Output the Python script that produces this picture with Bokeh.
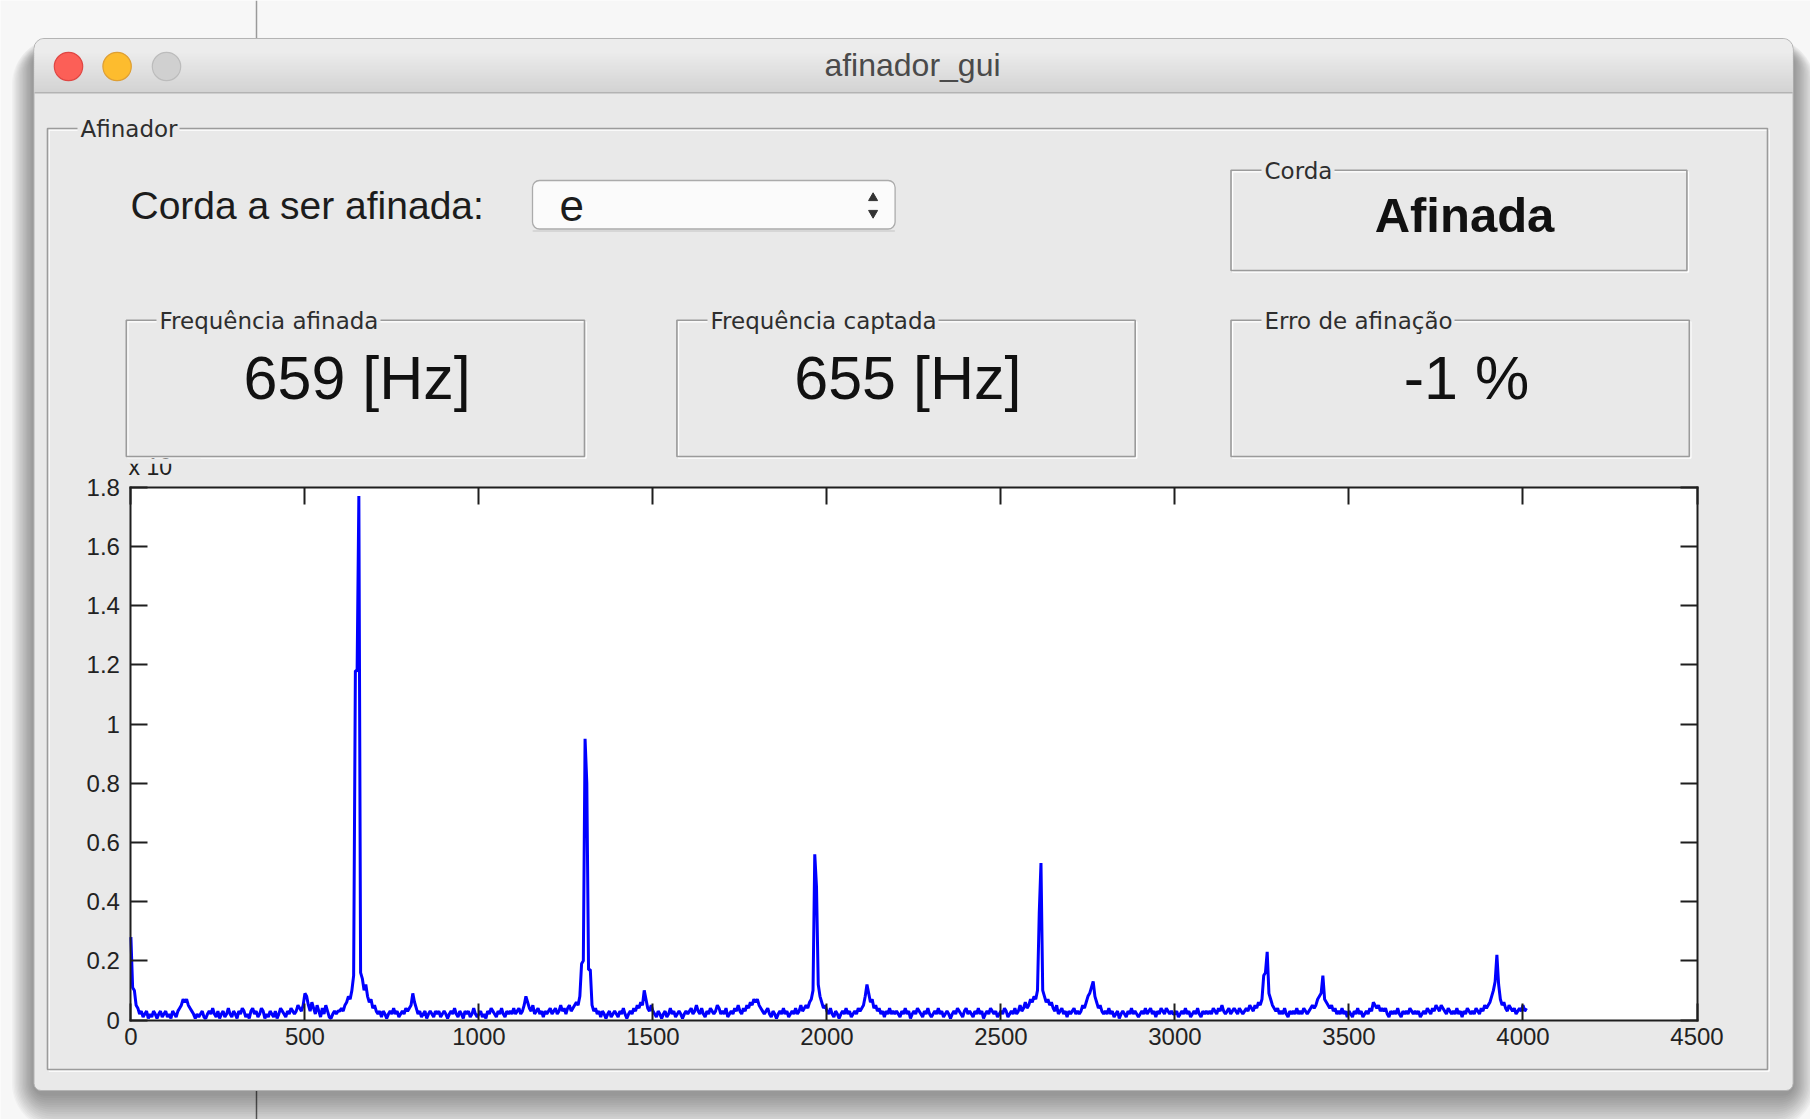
from bokeh.plotting import figure
from bokeh.models import Range1d, LinearAxis, FixedTicker
from bokeh.core.properties import value
from bokeh.embed import file_html
from bokeh.resources import INLINE

# ---------------- data ----------------
x_ticks = [0, 500, 1000, 1500, 2000, 2500, 3000, 3500, 4000, 4500]
x_tick_labels = ["0", "500", "1000", "1500", "2000", "2500", "3000", "3500", "4000", "4500"]
y_ticks = [0, 0.2, 0.4, 0.6, 0.8, 1.0, 1.2, 1.4, 1.6, 1.8]
y_tick_labels = ["0", "0.2", "0.4", "0.6", "0.8", "1", "1.2", "1.4", "1.6", "1.8"]

# spectrum magnitude, one value per 5 Hz bin (0, 5, 10, ... Hz)
amp = [
    0.28, 0.11, 0.10, 0.05, 0.04, 0.02, 0.03, 0.01, 0.02, 0.03, 0.005, 0.02, 0.01, 0.03, 0.02, 0.005, 0.02, 0.03, 0.01, 0.02,   # 0
    0.03, 0.01, 0.02, 0.005, 0.03, 0.02, 0.01, 0.03, 0.04, 0.05, 0.07, 0.06, 0.07, 0.05, 0.04, 0.03, 0.02, 0.005, 0.02, 0.01,  # 100
    0.02, 0.03, 0.01, 0.005, 0.02, 0.03, 0.02, 0.04, 0.02, 0.01, 0.03, 0.005, 0.02, 0.03, 0.01, 0.02, 0.04, 0.02, 0.01, 0.03,  # 200
    0.02, 0.005, 0.03, 0.02, 0.04, 0.03, 0.01, 0.02, 0.005, 0.03, 0.04, 0.02, 0.03, 0.01, 0.02, 0.04, 0.03, 0.005, 0.02, 0.01,  # 300
    0.03, 0.02, 0.01, 0.03, 0.005, 0.02, 0.04, 0.03, 0.02, 0.01, 0.03, 0.02, 0.04, 0.03, 0.02, 0.03, 0.05, 0.04, 0.03, 0.05,  # 400
    0.09, 0.08, 0.05, 0.03, 0.06, 0.04, 0.02, 0.05, 0.03, 0.01, 0.04, 0.02, 0.05, 0.03, 0.01, 0.005, 0.02, 0.03, 0.02, 0.03,  # 500
    0.03, 0.04, 0.03, 0.05, 0.06, 0.08, 0.07, 0.10, 0.15, 1.18, 1.18, 1.77, 0.16, 0.14, 0.10, 0.12, 0.08, 0.06, 0.07, 0.04,   # 600
    0.05, 0.03, 0.02, 0.03, 0.01, 0.03, 0.02, 0.005, 0.02, 0.03, 0.02, 0.04, 0.02, 0.03, 0.01, 0.02, 0.03, 0.02, 0.04, 0.03,  # 700
    0.04, 0.05, 0.09, 0.06, 0.04, 0.02, 0.03, 0.01, 0.02, 0.03, 0.005, 0.02, 0.03, 0.02, 0.01, 0.03, 0.02, 0.03, 0.01, 0.02,  # 800
    0.03, 0.02, 0.005, 0.02, 0.03, 0.02, 0.04, 0.02, 0.01, 0.03, 0.02, 0.005, 0.03, 0.02, 0.03, 0.01, 0.02, 0.04, 0.02, 0.01,  # 900
    0.02, 0.03, 0.01, 0.02, 0.005, 0.03, 0.02, 0.04, 0.03, 0.02, 0.01, 0.03, 0.02, 0.04, 0.02, 0.01, 0.03, 0.02, 0.03, 0.02,  # 1000
    0.04, 0.02, 0.03, 0.04, 0.02, 0.03, 0.05, 0.08, 0.06, 0.04, 0.03, 0.05, 0.02, 0.03, 0.04, 0.02, 0.03, 0.01, 0.03, 0.02,   # 1100
    0.03, 0.04, 0.02, 0.03, 0.04, 0.02, 0.03, 0.05, 0.03, 0.04, 0.02, 0.04, 0.05, 0.03, 0.04, 0.05, 0.06, 0.05, 0.08, 0.19,   # 1200
    0.20, 0.95, 0.80, 0.17, 0.17, 0.05, 0.03, 0.04, 0.02, 0.03, 0.01, 0.03, 0.02, 0.005, 0.02, 0.03, 0.01, 0.02, 0.03, 0.02,  # 1300
    0.01, 0.03, 0.02, 0.04, 0.02, 0.005, 0.02, 0.03, 0.02, 0.04, 0.03, 0.05, 0.04, 0.06, 0.05, 0.10, 0.07, 0.04, 0.03, 0.05,  # 1400
    0.03, 0.02, 0.01, 0.03, 0.02, 0.005, 0.02, 0.03, 0.01, 0.02, 0.04, 0.02, 0.03, 0.01, 0.02, 0.03, 0.02, 0.005, 0.02, 0.03,  # 1500
    0.02, 0.03, 0.04, 0.02, 0.03, 0.05, 0.03, 0.02, 0.04, 0.02, 0.01, 0.03, 0.02, 0.04, 0.03, 0.02, 0.03, 0.05, 0.04, 0.02,   # 1600
    0.03, 0.02, 0.04, 0.01, 0.02, 0.03, 0.02, 0.04, 0.03, 0.05, 0.03, 0.02, 0.04, 0.03, 0.05, 0.04, 0.06, 0.05, 0.07, 0.06,   # 1700
    0.07, 0.05, 0.04, 0.03, 0.02, 0.03, 0.04, 0.02, 0.01, 0.03, 0.02, 0.005, 0.02, 0.03, 0.02, 0.04, 0.02, 0.03, 0.01, 0.02,  # 1800
    0.03, 0.02, 0.04, 0.02, 0.03, 0.05, 0.03, 0.04, 0.05, 0.04, 0.06, 0.07, 0.10, 0.56, 0.45, 0.12, 0.08, 0.06, 0.04, 0.05,   # 1900
    0.03, 0.02, 0.04, 0.02, 0.01, 0.03, 0.02, 0.005, 0.02, 0.03, 0.02, 0.04, 0.02, 0.03, 0.01, 0.02, 0.03, 0.02, 0.04, 0.03,  # 2000
    0.04, 0.05, 0.08, 0.12, 0.09, 0.06, 0.07, 0.04, 0.05, 0.03, 0.04, 0.02, 0.03, 0.01, 0.03, 0.02, 0.04, 0.02, 0.03, 0.02,   # 2100
    0.03, 0.02, 0.01, 0.03, 0.02, 0.04, 0.02, 0.03, 0.005, 0.02, 0.03, 0.02, 0.04, 0.03, 0.02, 0.01, 0.03, 0.02, 0.04, 0.02,  # 2200
    0.01, 0.02, 0.03, 0.02, 0.04, 0.02, 0.03, 0.01, 0.02, 0.03, 0.02, 0.005, 0.02, 0.03, 0.02, 0.04, 0.03, 0.02, 0.01, 0.03,  # 2300
    0.04, 0.02, 0.03, 0.02, 0.01, 0.03, 0.02, 0.04, 0.02, 0.03, 0.005, 0.02, 0.03, 0.02, 0.04, 0.03, 0.02, 0.03, 0.01, 0.02,  # 2400
    0.03, 0.02, 0.04, 0.03, 0.01, 0.02, 0.03, 0.02, 0.04, 0.02, 0.03, 0.05, 0.03, 0.04, 0.06, 0.04, 0.05, 0.07, 0.06, 0.08,   # 2500
    0.07, 0.10, 0.36, 0.53, 0.10, 0.08, 0.06, 0.07, 0.05, 0.06, 0.04, 0.03, 0.05, 0.02, 0.03, 0.04, 0.02, 0.03, 0.01, 0.03,   # 2600
    0.02, 0.03, 0.04, 0.02, 0.03, 0.02, 0.03, 0.05, 0.04, 0.06, 0.08, 0.09, 0.11, 0.13, 0.08, 0.06, 0.04, 0.05, 0.03, 0.02,   # 2700
    0.03, 0.02, 0.04, 0.02, 0.03, 0.01, 0.02, 0.03, 0.005, 0.02, 0.03, 0.02, 0.01, 0.03, 0.02, 0.04, 0.02, 0.03, 0.02, 0.01,  # 2800
    0.02, 0.03, 0.02, 0.04, 0.02, 0.03, 0.04, 0.02, 0.03, 0.01, 0.03, 0.02, 0.04, 0.03, 0.02, 0.04, 0.03, 0.02, 0.03, 0.02,   # 2900
    0.02, 0.03, 0.01, 0.02, 0.03, 0.02, 0.04, 0.02, 0.03, 0.01, 0.02, 0.03, 0.02, 0.04, 0.02, 0.01, 0.03, 0.02, 0.03, 0.02,   # 3000
    0.03, 0.02, 0.04, 0.03, 0.02, 0.04, 0.03, 0.05, 0.03, 0.02, 0.03, 0.04, 0.02, 0.03, 0.04, 0.03, 0.02, 0.04, 0.03, 0.02,   # 3100
    0.03, 0.04, 0.03, 0.05, 0.04, 0.03, 0.05, 0.04, 0.06, 0.05, 0.07, 0.15, 0.16, 0.23, 0.09, 0.07, 0.05, 0.04, 0.03, 0.04,   # 3200
    0.02, 0.03, 0.02, 0.04, 0.02, 0.01, 0.03, 0.02, 0.03, 0.02, 0.04, 0.02, 0.03, 0.02, 0.04, 0.03, 0.02, 0.03, 0.04, 0.05,   # 3300
    0.04, 0.05, 0.07, 0.08, 0.09, 0.15, 0.07, 0.06, 0.05, 0.04, 0.05, 0.03, 0.04, 0.02, 0.03, 0.02, 0.04, 0.02, 0.03, 0.01,   # 3400
    0.03, 0.02, 0.01, 0.03, 0.02, 0.04, 0.02, 0.03, 0.01, 0.02, 0.03, 0.02, 0.04, 0.03, 0.06, 0.05, 0.04, 0.05, 0.03, 0.04,   # 3500
    0.03, 0.04, 0.02, 0.01, 0.03, 0.02, 0.03, 0.02, 0.04, 0.02, 0.01, 0.03, 0.02, 0.03, 0.02, 0.04, 0.03, 0.02, 0.03, 0.02,   # 3600
    0.03, 0.01, 0.02, 0.03, 0.02, 0.04, 0.03, 0.02, 0.04, 0.03, 0.05, 0.04, 0.03, 0.05, 0.04, 0.03, 0.02, 0.04, 0.03, 0.02,   # 3700
    0.03, 0.02, 0.04, 0.02, 0.03, 0.01, 0.03, 0.02, 0.04, 0.03, 0.02, 0.03, 0.02, 0.04, 0.03, 0.02, 0.04, 0.03, 0.05, 0.04,   # 3800
    0.05, 0.06, 0.08, 0.10, 0.13, 0.22, 0.12, 0.07, 0.05, 0.06, 0.04, 0.03, 0.05, 0.04, 0.03, 0.04, 0.02, 0.03, 0.04, 0.03,   # 3900
    0.05, 0.03, 0.04,                                                                                                        # 4000
]
freq_hz = [5 * i for i in range(len(amp))]  # bin frequencies, 5 Hz apart

window_title = "afinador_gui"
panel_title = "Afinador"
string_prompt = "Corda a ser afinada:"
string_choice = "e"
status_title = "Corda"
status_text = "Afinada"
box_titles = ["Frequência afinada", "Frequência captada", "Erro de afinação"]
box_values = ["659 [Hz]", "655 [Hz]", "-1 %"]
exponent_label = "x 10"

# ---------------- layout (page pixel coordinates) ----------------
PAGE_W, PAGE_H = 1810, 1119
PL, PR, PT, PB = 130.4, 1696.5, 486.7, 1019.5     # plot box
XMAX, YMAX = 4500.0, 1.8

BODY = "#e9e9e9"
DARK = "#9b9b9b"
FONT = "Liberation Sans"
SMALL = "DejaVu Sans"

p = figure(width=PAGE_W, height=PAGE_H,
           x_range=Range1d(0, PAGE_W), y_range=Range1d(PAGE_H, 0),
           x_axis_type=None, y_axis_type=None,
           output_backend="svg", toolbar_location=None, min_border=0)
p.outline_line_color = None
p.background_fill_color = "#f7f7f7"
p.border_fill_color = "#f7f7f7"

kf = (PR - PL) / XMAX
ka = (PB - PT) / YMAX
p.extra_x_ranges = {"f": Range1d((0 - PL) / kf, (PAGE_W - PL) / kf)}
p.extra_y_ranges = {"a": Range1d((PB - PAGE_H) / ka, (PB - 0) / ka)}


def rad(r):
    if isinstance(r, tuple):
        return tuple(int(round(v)) for v in r)
    return int(round(r))


def box(l, r, t, b, fill=None, line=None, lw=1.0, radius=0, alpha=1.0):
    p.quad(left=[l], right=[r], top=[t], bottom=[b], fill_color=fill, fill_alpha=alpha,
           line_color=line, line_width=lw, border_radius=rad(radius))


def label(x, y, s, size, font=FONT, color="#1c1c1c", align="left", style="normal"):
    p.text(x=[x], y=[y], text=[s], text_font=value(font), text_font_size=size,
           text_font_style=style, text_color=color, text_align=align,
           text_baseline="alphabetic")


# desktop line behind window
p.segment(x0=[256, 256], y0=[0, 1085], x1=[256, 256], y1=[45, 1119],
          line_color=["#9a9a9a", "#666666"], line_width=1.5)

# window shadow
WL, WR, WT, WB = 33.5, 1792.6, 38.0, 1090.0
N = 16
for i in range(N):
    e = 2.3 * (N - i)
    box(WL - 0.6 * e, WR + 0.6 * e, WT + 14 - 0.4 * e, WB + 3 + e,
        fill="black", alpha=0.028, radius=10 + e)

# window body
box(WL, WR, WT, WB, fill=BODY, line="#b4b4b4", lw=1, radius=(10, 10, 7, 7))
# title bar gradient
box(WL + 0.5, WR - 0.5, WT + 0.5, WT + 14, fill="#ececec", radius=(10, 10, 0, 0))
steps = 21
y0 = WT + 12
for i in range(steps):
    t = i / (steps - 1)
    c = int(round(0xec + (0xd3 - 0xec) * t))
    col = "#%02x%02x%02x" % (c, c, c)
    yy = y0 + i * (92 - y0) / steps
    box(WL + 0.5, WR - 0.5, yy, yy + (92 - y0) / steps + 0.6, fill=col)
box(WL + 0.5, WR - 0.5, 91.6, 93.0, fill="#b3b3b3")

# traffic lights
p.circle(x=[68.0, 116.6, 166.0], y=[66.0, 66.0, 66.0], radius=14.2,
         fill_color=["#fc5f57", "#fdbc2e", "#d0d0d0"],
         line_color=["#df4744", "#de9f34", "#bcbcbc"], line_width=1.2)

label(912, 64.5, window_title, "32px", color="#4a4a4a", align="center")


def etched(l, r, t, b, title, tx, tw, ty_line):
    box(l + 1.6, r + 1.6, t + 1.6, b + 1.6, line="#ffffff", lw=1.3)
    box(l, r, t, b, line=DARK, lw=1.6)
    box(tx - 3, tx + tw + 3, ty_line - 4, ty_line + 4, fill=BODY)   # gap behind title
    label(tx, ty_line + 0.3, title, "23px", font=SMALL, color="#2e2e2e")


# main panel
etched(47.0, 1767.0, 128.0, 1069.0, panel_title, 80, 96, 128.0)

# prompt + dropdown
label(130, 204.5, string_prompt, "39px")
box(532, 894.6, 229.5, 231.5, fill="#d6d6d6", radius=4)
box(532, 894.6, 180, 228.5, fill="#fbfbfb", line="#ababab", lw=1.3, radius=7)
label(559, 205.0, string_choice, "44px")
p.scatter(x=[872.6, 872.6], y=[197.5, 212.5], marker=["triangle", "inverted_triangle"],
          size=9, fill_color="#333333", line_color="#333333")

# status panel
etched(1230.5, 1686.4, 169.7, 270.0, status_title, 1264, 67, 169.7)
label(1464, 214.5, status_text, "49px", color="#111111", align="center", style="bold")

# three value boxes
bx = [(125.8, 584.0, 159, 218, 356.7), (676.4, 1134.7, 710, 225, 907.3),
      (1230.5, 1688.8, 1264, 187, 1466.0)]
for (l, r, tx, tw, cx), ttl, val in zip(bx, box_titles, box_values):
    etched(l, r, 319.7, 456.0, ttl, tx, tw, 319.7)
    label(cx, 377.5, val, "61px", color="#111111", align="center")

# ---------------- spectrum plot ----------------
p.quad(left=[0], right=[XMAX], bottom=[0], top=[YMAX], x_range_name="f", y_range_name="a",
       fill_color="white", line_color=None)
p.line(freq_hz, amp, x_range_name="f", y_range_name="a", line_color="#0000ff", line_width=3)

label(128, 466.5, exponent_label, "23px", color="#222222")
box(118, 200, 458.0, 463.2, fill=BODY)

AX = "#1e1e1e"


def add_axis(side, fixed, ticks, labels, show, bounds, standoff):
    ax = LinearAxis(x_range_name="f", y_range_name="a", fixed_location=fixed, bounds=bounds,
                    ticker=FixedTicker(ticks=ticks, minor_ticks=[]),
                    major_label_overrides={t: s for t, s in zip(ticks, labels)},
                    axis_line_color=AX, axis_line_width=2, axis_line_cap="square",
                    major_tick_line_color=AX, major_tick_line_width=2,
                    major_tick_in=17, major_tick_out=0, minor_tick_line_color=None,
                    major_label_text_font=FONT, major_label_text_font_size="24px",
                    major_label_text_color="#222222" if show else None,
                    major_label_standoff=standoff)
    p.add_layout(ax, side)


add_axis("below", 0, x_ticks, x_tick_labels, True, (0, XMAX), 8)
add_axis("above", YMAX, x_ticks, x_tick_labels, False, (0, XMAX), 8)
add_axis("left", 0, y_ticks, y_tick_labels, True, (0, YMAX), 11)
add_axis("right", XMAX, y_ticks, y_tick_labels, False, (0, YMAX), 11)

open("out.html", "w").write(file_html(p, INLINE))
